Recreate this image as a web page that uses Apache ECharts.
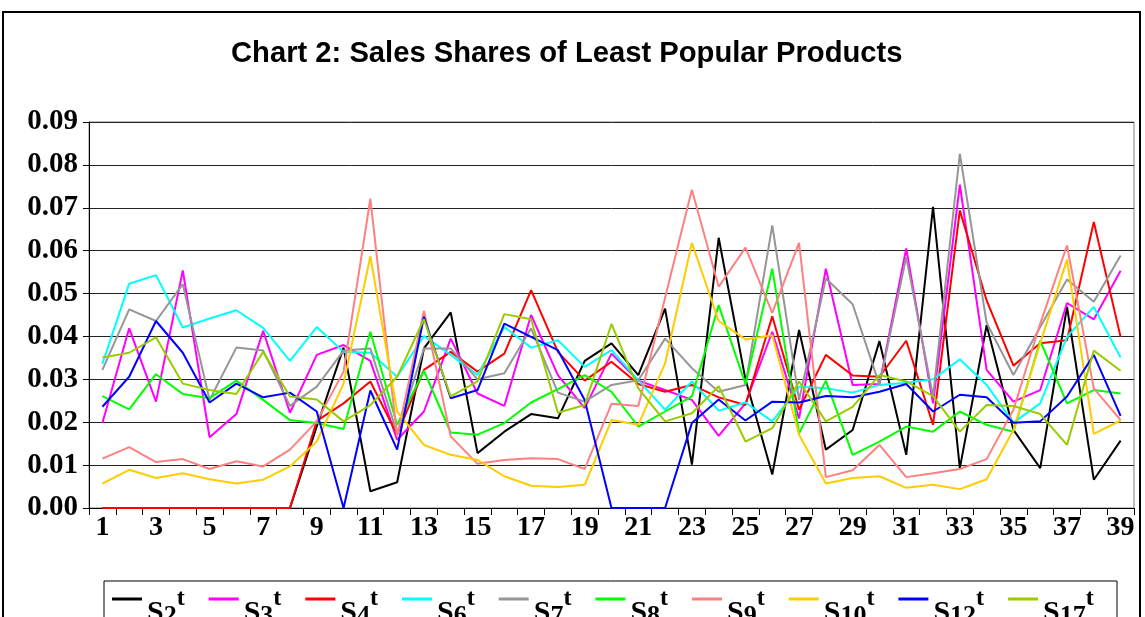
<!DOCTYPE html>
<html>
<head>
<meta charset="utf-8">
<script src="https://cdn.jsdelivr.net/npm/echarts@6/dist/echarts.min.js"></script>
<style>
  html, body { margin: 0; padding: 0; background: #fff; }
  #chart { width: 1145px; height: 617px; }
</style>
</head>
<body>
<div id="chart"></div>
<script>
// periods 1..39
var periods = [];
for (var p = 1; p <= 39; p++) periods.push(String(p));

var yTicks = [0, 0.01, 0.02, 0.03, 0.04, 0.05, 0.06, 0.07, 0.08, 0.09];

// sales shares
var s2 = [0, 0, 0, 0, 0, 0, 0, 0, 0.019, 0.0374, 0.0039, 0.006, 0.0372, 0.0456, 0.0128, 0.0178, 0.0219, 0.0209, 0.0343, 0.0384,
  0.031, 0.0465, 0.0101, 0.063, 0.030, 0.0078, 0.0415, 0.0136, 0.0182, 0.0389, 0.0124, 0.0702, 0.0093, 0.0426, 0.0182, 0.0093, 0.0469, 0.0066, 0.0157];
var s3 = [0.0198, 0.0419, 0.0248, 0.0554, 0.0165, 0.0219, 0.0413, 0.0222, 0.0357, 0.038, 0.0343, 0.0159, 0.0225, 0.0395, 0.0267, 0.0238, 0.045, 0.031, 0.0233, 0.036,
  0.0297, 0.0275, 0.0252, 0.0168, 0.0244, 0.0411, 0.0209, 0.0558, 0.0287, 0.0289, 0.0605, 0.0244, 0.0754, 0.0322, 0.0248, 0.0275, 0.0478, 0.044, 0.0553];
var s4 = [0, 0, 0, 0, 0, 0, 0, 0, 0.0203, 0.0244, 0.0295, 0.0171, 0.0322, 0.0364, 0.0318, 0.036, 0.0508, 0.0364, 0.0297, 0.0341,
  0.0289, 0.0271, 0.0287, 0.0258, 0.024, 0.0447, 0.0229, 0.0357, 0.0309, 0.0306, 0.039, 0.0194, 0.0694, 0.0484, 0.0332, 0.0384, 0.0391, 0.0667, 0.0399];
var s6 = [0.0336, 0.0523, 0.0543, 0.0421, 0.0442, 0.0461, 0.042, 0.0343, 0.0422, 0.0364, 0.0362, 0.0306, 0.0401, 0.0357, 0.031, 0.0422, 0.0374, 0.0391, 0.0329, 0.0368,
  0.0298, 0.0229, 0.0295, 0.0227, 0.0246, 0.0202, 0.0283, 0.0279, 0.0269, 0.0287, 0.0292, 0.030, 0.0347, 0.0287, 0.0199, 0.0244, 0.0399, 0.0469, 0.0351];
var s7 = [0.0322, 0.0463, 0.0436, 0.0522, 0.0252, 0.0374, 0.0367, 0.0238, 0.0283, 0.0367, 0.0372, 0.0174, 0.0372, 0.0372, 0.030, 0.0314, 0.0419, 0.0269, 0.0248, 0.0287,
  0.0298, 0.0395, 0.0326, 0.0271, 0.0287, 0.0659, 0.0252, 0.0535, 0.0475, 0.0287, 0.0585, 0.026, 0.0826, 0.0432, 0.031, 0.0422, 0.0533, 0.0481, 0.0589];
var s8 = [0.0261, 0.023, 0.0312, 0.0266, 0.0256, 0.0297, 0.0252, 0.0205, 0.0198, 0.0184, 0.0411, 0.0194, 0.032, 0.0176, 0.0171, 0.0198, 0.0246, 0.0277, 0.031, 0.0271,
  0.019, 0.0225, 0.026, 0.0473, 0.0289, 0.0558, 0.0174, 0.0297, 0.0124, 0.0155, 0.019, 0.0178, 0.0225, 0.0194, 0.0178, 0.039, 0.0244, 0.0275, 0.0267];
var s9 = [0.0115, 0.0142, 0.0107, 0.0114, 0.0091, 0.0109, 0.0097, 0.0136, 0.0202, 0.0318, 0.0721, 0.0167, 0.046, 0.0167, 0.0103, 0.0112, 0.0116, 0.0114, 0.0091, 0.0243,
  0.0238, 0.049, 0.0742, 0.0516, 0.0607, 0.0455, 0.0618, 0.0072, 0.0088, 0.0147, 0.0072, 0.0081, 0.0091, 0.0114, 0.0229, 0.043, 0.0612, 0.0279, 0.0205];
var s10 = [0.0057, 0.0089, 0.007, 0.0081, 0.0067, 0.0057, 0.0066, 0.0097, 0.0155, 0.029, 0.0587, 0.0225, 0.0147, 0.0124, 0.0112, 0.0074, 0.0052, 0.0049, 0.0054, 0.0205,
  0.0194, 0.0337, 0.0618, 0.0436, 0.0393, 0.0403, 0.0171, 0.0057, 0.007, 0.0074, 0.0047, 0.0054, 0.0044, 0.0067, 0.0182, 0.0384, 0.0579, 0.0173, 0.0204];
var s12 = [0.0236, 0.0306, 0.0436, 0.0362, 0.0246, 0.029, 0.0258, 0.0269, 0.0225, 0, 0.0274, 0.0136, 0.0446, 0.0256, 0.0275, 0.043, 0.0399, 0.0368, 0.0252, 0,
  0, 0, 0.0198, 0.0253, 0.0204, 0.0248, 0.0246, 0.0261, 0.0258, 0.0271, 0.0289, 0.0225, 0.0264, 0.0258, 0.0199, 0.0202, 0.026, 0.0357, 0.0215];
var s17 = [0.0351, 0.0362, 0.0398, 0.029, 0.0275, 0.0266, 0.0364, 0.026, 0.0253, 0.0202, 0.024, 0.0306, 0.044, 0.026, 0.0295, 0.0452, 0.044, 0.0222, 0.024, 0.0429,
  0.0279, 0.0202, 0.0221, 0.0284, 0.0155, 0.0186, 0.0295, 0.0202, 0.0236, 0.031, 0.0295, 0.0261, 0.0178, 0.024, 0.0238, 0.0219, 0.0147, 0.0367, 0.032];

var names = ["S2", "S3", "S4", "S6", "S7", "S8", "S9", "S10", "S12", "S17"];
var colors = ["#000000", "#ff00ff", "#ff0000", "#00ffff", "#969696", "#00ff00", "#ff8080", "#ffcc00", "#0000ff", "#99cc00"];
var values = [s2, s3, s4, s6, s7, s8, s9, s10, s12, s17];

var myChart = echarts.init(document.getElementById("chart"));

var seriesList = names.map(function (name, i) {
  return {
    name: name,
    type: "line",
    data: values[i],
    symbol: "none",
    lineStyle: { width: 2, color: colors[i] },
    itemStyle: { color: colors[i] },
    z: 3
  };
});

var option = {
  animation: false,
  title: {
    text: "Chart 2: Sales Shares of Least Popular Products",
    left: 226,
    top: 34,
    textStyle: { fontFamily: "Liberation Sans", fontWeight: "bold", fontSize: 29.2, color: "#000" }
  },
  grid: {
    left: 89, right: 11, top: 122, bottom: 109,
    show: true, borderColor: "#808080", borderWidth: 1
  },
  legend: {
    data: names,
    left: 112,
    top: 567,
    padding: 0,
    icon: "rect",
    itemWidth: 30,
    itemHeight: 3,
    itemGap: 24,
    formatter: function (name) {
      return "{s|S}{b|" + name.slice(1) + "}{t|t}";
    },
    textStyle: {
      rich: {
        // every piece is 64px tall; the top padding sets where the glyph sits
        s: { fontFamily: "Liberation Serif", fontWeight: "bold", fontSize: 30, color: "#000", lineHeight: 36, padding: [28, 0, 0, 0] },
        b: { fontFamily: "Liberation Serif", fontWeight: "bold", fontSize: 26, color: "#000", lineHeight: 30, padding: [34, 0, 0, 0] },
        t: { fontFamily: "Liberation Serif", fontWeight: "bold", fontSize: 24, color: "#000", lineHeight: 24, padding: [20, 0, 20, 0] }
      }
    }
  },
  graphic: [
    { type: "rect", shape: { x: 3, y: 12, width: 1137, height: 700 }, style: { fill: null, stroke: "#000", lineWidth: 2 }, silent: true },
    { type: "rect", shape: { x: 104, y: 581, width: 1013, height: 60 }, style: { fill: null, stroke: "#000", lineWidth: 1 }, silent: true }
  ],
  xAxis: {
    type: "category",
    data: periods,
    boundaryGap: true,
    axisLine: { lineStyle: { color: "#000", width: 1 } },
    axisTick: { show: true, interval: 0, length: 7, lineStyle: { color: "#000" } },
    axisLabel: {
      interval: 1,
      margin: 6,
      fontFamily: "Liberation Serif",
      fontWeight: "bold",
      fontSize: 28,
      color: "#000"
    },
    splitLine: { show: false }
  },
  yAxis: {
    type: "value",
    min: yTicks[0],
    max: yTicks[yTicks.length - 1],
    interval: 0.01,
    axisLine: { show: true, lineStyle: { color: "#000", width: 1 } },
    axisTick: { show: true, length: 6, lineStyle: { color: "#000" } },
    axisLabel: {
      margin: 11,
      fontFamily: "Liberation Serif",
      fontWeight: "bold",
      fontSize: 29,
      color: "#000",
      formatter: function (v) { return v.toFixed(2); }
    },
    splitLine: { show: true, lineStyle: { color: "#222", width: 1 } }
  },
  series: seriesList
};

myChart.setOption(option);
</script>
</body>
</html>
